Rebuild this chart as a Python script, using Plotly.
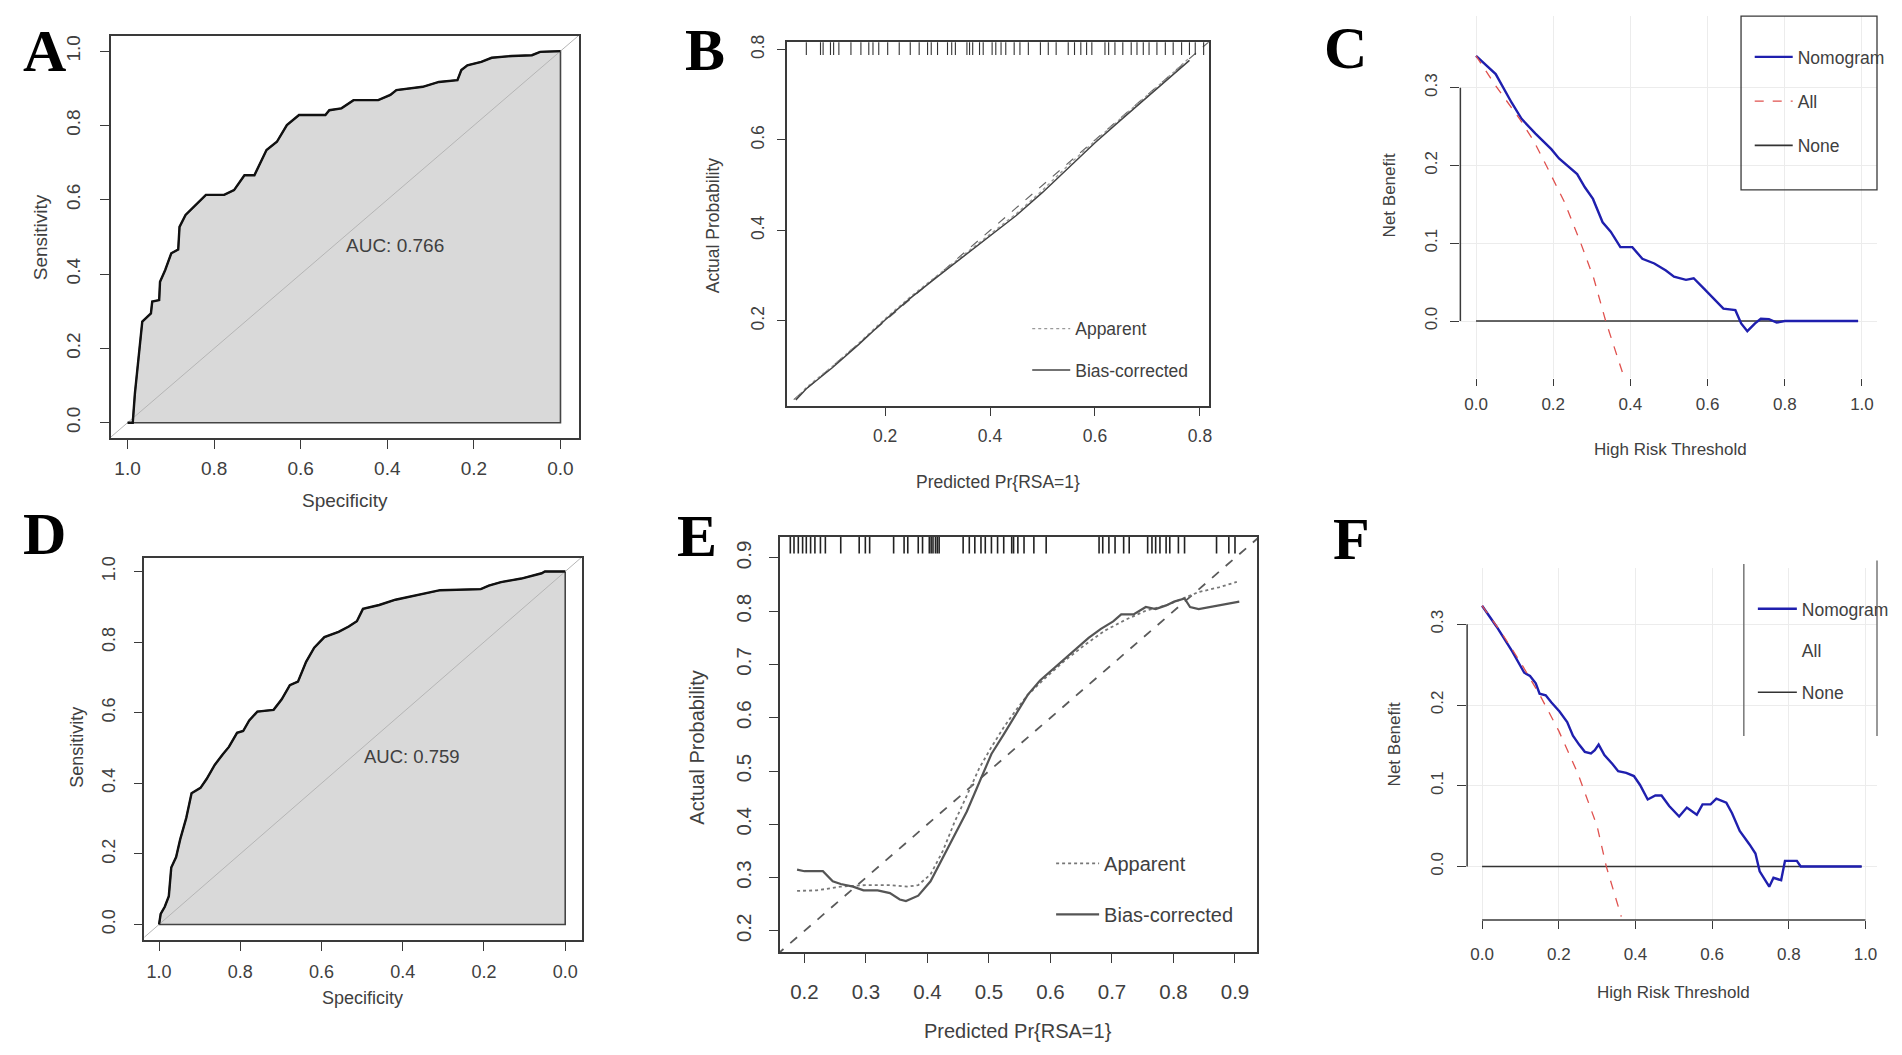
import plotly.graph_objects as go

# ---------------- data ----------------
# A: ROC, training cohort
roc_a_spec = [1.0, 0.988, 0.983, 0.974, 0.966, 0.946, 0.943, 0.927, 0.925, 0.913,
              0.899, 0.883, 0.880, 0.866, 0.843, 0.819, 0.777, 0.754, 0.730, 0.707,
              0.679, 0.655, 0.632, 0.604, 0.543, 0.534, 0.506, 0.478, 0.421, 0.393,
              0.379, 0.318, 0.281, 0.238, 0.229, 0.215, 0.183, 0.159, 0.112, 0.066,
              0.047, 0.0]
roc_a_sens = [0.0, 0.0, 0.079, 0.187, 0.272, 0.294, 0.326, 0.330, 0.379, 0.411,
              0.456, 0.466, 0.527, 0.559, 0.586, 0.613, 0.613, 0.626, 0.666, 0.666,
              0.734, 0.756, 0.801, 0.828, 0.828, 0.841, 0.846, 0.868, 0.868, 0.882,
              0.895, 0.904, 0.917, 0.922, 0.949, 0.962, 0.971, 0.982, 0.987, 0.989,
              0.998, 1.0]

# D: ROC, validation cohort
roc_d_spec = [1.0, 0.996, 0.986, 0.976, 0.970, 0.958, 0.948, 0.933, 0.920, 0.898,
              0.883, 0.863, 0.843, 0.828, 0.808, 0.793, 0.778, 0.758, 0.718, 0.698,
              0.678, 0.658, 0.638, 0.618, 0.593, 0.558, 0.533, 0.513, 0.498, 0.458,
              0.418, 0.358, 0.308, 0.208, 0.188, 0.158, 0.108, 0.058, 0.05, 0.0]
roc_d_sens = [0.0, 0.030, 0.050, 0.080, 0.161, 0.191, 0.241, 0.302, 0.372, 0.387,
              0.412, 0.452, 0.482, 0.503, 0.543, 0.548, 0.578, 0.603, 0.608, 0.638,
              0.678, 0.688, 0.744, 0.784, 0.814, 0.829, 0.844, 0.859, 0.894, 0.905,
              0.920, 0.935, 0.947, 0.950, 0.960, 0.970, 0.980, 0.995, 1.0, 1.0]

auc_labels = ["AUC: 0.766", "AUC: 0.759"]
roc_ticks = [0.0, 0.2, 0.4, 0.6, 0.8, 1.0]

# B: calibration, training cohort
cal_b_x = [0.03, 0.05, 0.10, 0.15, 0.20, 0.25, 0.30, 0.35, 0.40, 0.45, 0.50,
           0.55, 0.60, 0.65, 0.70, 0.75, 0.78]
cal_b_apparent = [0.028, 0.053, 0.100, 0.151, 0.205, 0.255, 0.301, 0.346, 0.391,
                  0.437, 0.489, 0.545, 0.598, 0.648, 0.698, 0.750, 0.782]
cal_b_bias = [0.025, 0.050, 0.097, 0.148, 0.202, 0.252, 0.298, 0.343, 0.388,
              0.433, 0.484, 0.540, 0.594, 0.645, 0.695, 0.746, 0.776]
rug_b = [0.050, 0.077, 0.082, 0.096, 0.102, 0.112, 0.135, 0.154, 0.169, 0.177,
         0.188, 0.205, 0.227, 0.248, 0.265, 0.281, 0.288, 0.300, 0.319, 0.327,
         0.334, 0.356, 0.361, 0.367, 0.380, 0.387, 0.404, 0.411, 0.421, 0.430,
         0.446, 0.457, 0.473, 0.496, 0.511, 0.526, 0.549, 0.561, 0.573, 0.584,
         0.594, 0.619, 0.626, 0.638, 0.653, 0.669, 0.680, 0.692, 0.703, 0.718,
         0.734, 0.749, 0.765, 0.780, 0.791, 0.807]
cal_b_ticks = [0.2, 0.4, 0.6, 0.8]

# E: calibration, validation cohort
cal_e_bias_x = [0.188, 0.200, 0.230, 0.246, 0.259, 0.279, 0.296, 0.319, 0.339, 0.355,
                0.365, 0.385, 0.405, 0.425, 0.444, 0.464, 0.484, 0.504, 0.524, 0.543,
                0.563, 0.583, 0.603, 0.623, 0.643, 0.662, 0.682, 0.702, 0.715, 0.735,
                0.755, 0.771, 0.788, 0.801, 0.818, 0.827, 0.841, 0.867, 0.887, 0.907]
cal_e_bias = [0.315, 0.312, 0.312, 0.293, 0.288, 0.283, 0.276, 0.276, 0.271, 0.259,
              0.256, 0.266, 0.293, 0.337, 0.377, 0.424, 0.478, 0.532, 0.569, 0.606,
              0.643, 0.670, 0.690, 0.710, 0.730, 0.750, 0.767, 0.781, 0.794, 0.794,
              0.808, 0.804, 0.811, 0.818, 0.824, 0.808, 0.804, 0.809, 0.814, 0.818]
cal_e_app_x = [0.188, 0.220, 0.259, 0.299, 0.339, 0.368, 0.385, 0.405, 0.425, 0.444,
               0.464, 0.484, 0.504, 0.524, 0.543, 0.563, 0.590, 0.623, 0.656, 0.689,
               0.722, 0.755, 0.788, 0.814, 0.841, 0.874, 0.903]
cal_e_app = [0.275, 0.276, 0.283, 0.286, 0.286, 0.283, 0.286, 0.306, 0.350, 0.404,
             0.454, 0.505, 0.545, 0.582, 0.613, 0.643, 0.673, 0.707, 0.737, 0.764,
             0.784, 0.801, 0.811, 0.824, 0.836, 0.845, 0.855]
rug_e = [0.177, 0.183, 0.190, 0.197, 0.203, 0.210, 0.217, 0.226, 0.234, 0.259,
         0.289, 0.299, 0.306, 0.345, 0.362, 0.368, 0.385, 0.392, 0.403, 0.406,
         0.409, 0.413, 0.416, 0.419, 0.458, 0.468, 0.477, 0.487, 0.494, 0.504,
         0.514, 0.524, 0.537, 0.540, 0.547, 0.557, 0.573, 0.593, 0.679, 0.685,
         0.695, 0.705, 0.719, 0.728, 0.758, 0.765, 0.771, 0.778, 0.788, 0.794,
         0.808, 0.818, 0.870, 0.890, 0.900]
cal_e_ticks = [0.2, 0.3, 0.4, 0.5, 0.6, 0.7, 0.8, 0.9]

# C: decision curve, training cohort
dca_c_x = [0.0, 0.051, 0.092, 0.118, 0.154, 0.195, 0.215, 0.241, 0.262, 0.282,
           0.303, 0.328, 0.349, 0.374, 0.405, 0.431, 0.462, 0.492, 0.513, 0.544,
           0.564, 0.590, 0.615, 0.641, 0.672, 0.687, 0.703, 0.723, 0.738, 0.759,
           0.779, 0.800, 0.990]
dca_c_nomogram = [0.341, 0.3175, 0.281, 0.260, 0.241, 0.221, 0.209, 0.198, 0.189, 0.172,
                  0.157, 0.127, 0.115, 0.095, 0.095, 0.080, 0.074, 0.065, 0.057, 0.053,
                  0.055, 0.042, 0.029, 0.016, 0.014, -0.003, -0.013, -0.003, 0.003, 0.0025,
                  -0.002, 0.0, 0.0]
dca_c_all_x = [0.0, 0.05, 0.113, 0.15, 0.182, 0.23, 0.2715, 0.305, 0.336, 0.38]
dca_c_all = [0.341, 0.303, 0.260, 0.231, 0.200, 0.152, 0.100, 0.055, 0.0, -0.067]

# F: decision curve, validation cohort
dca_f_x = [0.0, 0.038, 0.079, 0.110, 0.125, 0.140, 0.150, 0.166, 0.181, 0.202,
           0.222, 0.237, 0.253, 0.268, 0.284, 0.294, 0.304, 0.319, 0.340, 0.355,
           0.376, 0.396, 0.412, 0.432, 0.452, 0.468, 0.488, 0.514, 0.534, 0.560,
           0.575, 0.596, 0.611, 0.637, 0.652, 0.672, 0.698, 0.713, 0.724, 0.734,
           0.749, 0.760, 0.780, 0.790, 0.821, 0.831, 0.990]
dca_f_nomogram = [0.323, 0.297, 0.266, 0.240, 0.236, 0.227, 0.214, 0.212, 0.203, 0.192,
                  0.179, 0.162, 0.151, 0.142, 0.140, 0.144, 0.151, 0.138, 0.127, 0.118,
                  0.116, 0.112, 0.101, 0.083, 0.088, 0.088, 0.075, 0.062, 0.073, 0.064,
                  0.077, 0.077, 0.084, 0.079, 0.066, 0.044, 0.027, 0.016, -0.006, -0.014,
                  -0.025, -0.014, -0.017, 0.007, 0.007, 0.0, 0.0]
dca_f_all_x = [0.0, 0.05, 0.1, 0.15, 0.2, 0.25, 0.3, 0.324, 0.363]
dca_f_all = [0.323, 0.290, 0.253, 0.213, 0.168, 0.115, 0.050, 0.0, -0.062]

none_x = [0.0, 0.99]
none_y = [0.0, 0.0]
dca_x_ticks = [0.0, 0.2, 0.4, 0.6, 0.8, 1.0]
dca_y_ticks = [0.0, 0.1, 0.2, 0.3]

# ---------------- page geometry ----------------
FW, FH = 1886, 1039          # div size (body keeps its 8px margin)
S = 1902 / 1568              # positions below were measured on a 1568px wide view
SANS = "Liberation Sans, Arial, sans-serif"
SERIF = "Liberation Serif, Times New Roman, serif"
TXT = "#404040"
AX = "#3a3a3a"


def fx(d):
    d = d * 1.0034 + 1.7     # small horizontal calibration of the measurements
    return max(0.0, min(1.0, (d * S - 8) / FW))


def fy(d):
    d = d * 1.004 - 4.5      # small vertical calibration of the measurements
    return max(0.0, min(1.0, 1 - (d * S - 8) / FH))


def box_axis(dom, rng, ticks, size, standoff, anchor, angle=0):
    return dict(domain=dom, range=rng, tickvals=ticks, tickformat=".1f", anchor=anchor,
                showline=True, mirror=True, linecolor=AX, linewidth=1.5,
                ticks="outside", ticklen=9, tickwidth=1.3, tickcolor=AX,
                showgrid=False, zeroline=False, tickangle=angle,
                ticklabelstandoff=standoff,
                tickfont=dict(family=SANS, size=size, color=TXT))


def dca_axis(dom, rng, ticks, size, standoff, anchor, ticklen, angle=0):
    return dict(domain=dom, range=rng, tickvals=ticks, tickformat=".1f", anchor=anchor,
                showline=False, ticks="outside", ticklen=ticklen, tickwidth=1.3, tickcolor=AX,
                showgrid=True, gridcolor="#ececec", gridwidth=1, zeroline=False,
                tickangle=angle, ticklabelstandoff=standoff,
                tickfont=dict(family=SANS, size=size, color=TXT))


def legend_box(line_x, first_y, size, gap, itemwidth):
    d = first_y * 1.004 - 4.5
    top = d * S - 8 - size * 0.65 - 5
    lx = line_x * 1.0034 + 1.7
    return dict(x=(lx * S - 8 - 5) / FW, y=1 - top / FH, xanchor="left", yanchor="top",
                bgcolor="rgba(0,0,0,0)", borderwidth=0, tracegroupgap=gap,
                traceorder="grouped", itemwidth=itemwidth,
                font=dict(family=SANS, size=size, color=TXT))


def note(text, xd, yd, size, angle=0, family=SANS, color=TXT, weight="normal"):
    return dict(text=text, x=fx(xd), y=fy(yd), xref="paper", yref="paper",
                showarrow=False, textangle=angle, xanchor="center", yanchor="middle",
                font=dict(family=family, size=size, color=color, weight=weight))


fig = go.Figure()

# ---- ROC panels (A -> x/y, D -> x4/y4) ----
for spec, sens, xa, ya in [(roc_a_spec, roc_a_sens, "x", "y"),
                           (roc_d_spec, roc_d_sens, "x4", "y4")]:
    fig.add_trace(go.Scatter(x=spec + [0.0, 1.0], y=sens + [0.0, 0.0], fill="toself",
                             fillcolor="#d9d9d9", mode="lines",
                             line=dict(color="#444", width=1.6),
                             xaxis=xa, yaxis=ya, showlegend=False, hoverinfo="skip"))
    fig.add_trace(go.Scatter(x=[1.1, -0.1], y=[-0.1, 1.1], mode="lines",
                             line=dict(color="#b5b5b5", width=1),
                             xaxis=xa, yaxis=ya, showlegend=False, hoverinfo="skip"))
    fig.add_trace(go.Scatter(x=spec, y=sens, mode="lines",
                             line=dict(color="#111", width=2.4),
                             xaxis=xa, yaxis=ya, showlegend=False))

# ---- calibration panels (B -> x2/y2, E -> x5/y5) ----
b_top, e_top = 0.816, 0.940
fig.add_trace(go.Scatter(x=[0, 1], y=[0, 1], mode="lines", xaxis="x2", yaxis="y2",
                         line=dict(color="#666", width=1.2, dash="dash"), showlegend=False))
fig.add_trace(go.Scatter(x=cal_b_x, y=cal_b_apparent, mode="lines", name="Apparent",
                         xaxis="x2", yaxis="y2", legend="legend", legendgroup="b1",
                         line=dict(color="#9a9a9a", width=1.3, dash="dot")))
fig.add_trace(go.Scatter(x=cal_b_x, y=cal_b_bias, mode="lines", name="Bias-corrected",
                         xaxis="x2", yaxis="y2", legend="legend", legendgroup="b2",
                         line=dict(color="#444", width=1.5)))
fig.add_trace(go.Scatter(x=rug_b, y=[b_top] * len(rug_b), mode="markers",
                         xaxis="x2", yaxis="y2", showlegend=False,
                         marker=dict(symbol="line-ns", size=18,
                                     line=dict(color="#333", width=1.1))))

fig.add_trace(go.Scatter(x=[0, 1], y=[0, 1], mode="lines", xaxis="x5", yaxis="y5",
                         line=dict(color="#5a5a5a", width=1.8, dash="dash"), showlegend=False))
fig.add_trace(go.Scatter(x=cal_e_app_x, y=cal_e_app, mode="lines", name="Apparent",
                         xaxis="x5", yaxis="y5", legend="legend2", legendgroup="e1",
                         line=dict(color="#777", width=1.8, dash="dot")))
fig.add_trace(go.Scatter(x=cal_e_bias_x, y=cal_e_bias, mode="lines", name="Bias-corrected",
                         xaxis="x5", yaxis="y5", legend="legend2", legendgroup="e2",
                         line=dict(color="#555", width=2.2)))
fig.add_trace(go.Scatter(x=rug_e, y=[e_top] * len(rug_e), mode="markers",
                         xaxis="x5", yaxis="y5", showlegend=False,
                         marker=dict(symbol="line-ns", size=24,
                                     line=dict(color="#222", width=1.6))))

# ---- decision curves (C -> x3/y3, F -> x6/y6) ----
for xa, ya, lg, nx, ny, ax_, ay_, show_all in [
        ("x3", "y3", "legend3", dca_c_x, dca_c_nomogram, dca_c_all_x, dca_c_all, True),
        ("x6", "y6", "legend4", dca_f_x, dca_f_nomogram, dca_f_all_x, dca_f_all, False)]:
    fig.add_trace(go.Scatter(x=none_x, y=none_y, mode="lines", name="None",
                             xaxis=xa, yaxis=ya, legend=lg, legendgroup=lg + "n", legendrank=3,
                             line=dict(color="#333", width=1.6)))
    fig.add_trace(go.Scatter(x=nx, y=ny, mode="lines", name="Nomogram",
                             xaxis=xa, yaxis=ya, legend=lg, legendgroup=lg + "m", legendrank=1,
                             line=dict(color="#1f1fae", width=2.4)))
    fig.add_trace(go.Scatter(x=ax_, y=ay_, mode="lines", name="All",
                             xaxis=xa, yaxis=ya, legend=lg, legendgroup=lg + "a", legendrank=2,
                             showlegend=show_all,
                             line=dict(color="#e0524f", width=1.3, dash="dash")))
    if not show_all:
        # legend entry without a line sample, as in the original
        fig.add_trace(go.Scatter(x=[None], y=[None], mode="lines", name="All",
                                 xaxis=xa, yaxis=ya, legend=lg, legendgroup=lg + "a",
                                 legendrank=2, line=dict(color="#e0524f", width=0)))

fig.update_layout(
    width=FW, height=FH, margin=dict(l=0, r=0, t=0, b=0),
    paper_bgcolor="white", plot_bgcolor="white", showlegend=True,
    xaxis=box_axis([fx(90), fx(478)], [1.039, -0.042], roc_ticks, 19, 3, "y"),
    yaxis=box_axis([fy(361), fy(28)], [-0.042, 1.042], roc_ticks, 19, 12, "x", -90),
    xaxis4=box_axis([fx(118), fx(481)], [1.036, -0.042], roc_ticks, 18, 5, "y4"),
    yaxis4=box_axis([fy(776), fy(460)], [-0.045, 1.038], roc_ticks, 18, 12, "x4", -90),
    xaxis2=box_axis([fx(651), fx(1000.5)], [0.0138, 0.817], cal_b_ticks, 17.5, 5, "y2"),
    yaxis2=box_axis([fy(334), fy(33.6)], [0.0126, b_top], cal_b_ticks, 17.5, 6, "x2", -90),
    xaxis5=box_axis([fx(644.8), fx(1040.5)], [0.160, 0.936], cal_e_ticks, 20.5, 11, "y5"),
    yaxis5=box_axis([fy(785.8), fy(442.3)], [0.160, e_top], cal_e_ticks, 20.5, 10, "x5", -90),
    xaxis3=dca_axis([fx(1209), 1.0], [-0.0406, 1.039], dca_x_ticks, 17, 4, "y3", 7),
    yaxis3=dca_axis([fy(311), fy(12)], [-0.073, 0.392], dca_y_ticks, 17, 7, "x3", 9, -90),
    xaxis6=dca_axis([fx(1214.6), 1.0], [-0.039, 1.030], dca_x_ticks, 17, 10, "y6", 8),
    yaxis6=dca_axis([fy(759.3), fy(468)], [-0.0664, 0.370], dca_y_ticks, 17, 7, "x6", 9, -90),
    legend=legend_box(854, 269, 17.5, 15.5, 38),
    legend2=legend_box(873.8, 711, 20, 22, 43),
    legend3=legend_box(1453, 44.3, 17.5, 18.5, 38),
    legend4=legend_box(1455.6, 500.5, 17.5, 16, 39),
)

# axis lines of the decision-curve panels only span the data ticks
shapes = [
    dict(type="line", xref="x3 domain", yref="y3", x0=0, x1=0, y0=0, y1=0.3,
         line=dict(color=AX, width=1.5)),
    dict(type="line", xref="x6 domain", yref="y6", x0=0, x1=0, y0=0, y1=0.3,
         line=dict(color=AX, width=1.5)),
    dict(type="line", xref="x6", yref="y6 domain", x0=0, x1=1, y0=0, y1=0,
         line=dict(color=AX, width=1.5)),
    # legend frames
    dict(type="rect", xref="paper", yref="paper", x0=fx(1441.7), x1=fx(1556),
         y0=fy(155.6), y1=fy(12), line=dict(color=AX, width=1.3)),
    dict(type="line", xref="paper", yref="paper", x0=fx(1444), x1=fx(1444),
         y0=fy(607), y1=fy(465), line=dict(color="#777", width=1.5)),
    dict(type="line", xref="paper", yref="paper", x0=fx(1556.5), x1=fx(1556.5),
         y0=fy(607), y1=fy(462), line=dict(color="#777", width=1.5)),
]

annotations = [
    # panel letters
    note("A", 35, 41, 60, family=SERIF, color="black", weight="bold"),
    note("B", 583, 40, 60, family=SERIF, color="black", weight="bold"),
    note("C", 1114, 38, 60, family=SERIF, color="black", weight="bold"),
    note("D", 35, 440, 60, family=SERIF, color="black", weight="bold"),
    note("E", 576, 442, 60, family=SERIF, color="black", weight="bold"),
    note("F", 1119, 444, 60, family=SERIF, color="black", weight="bold"),
    # axis titles
    note("Sensitivity", 32, 195, 19, -90),
    note("Specificity", 284, 412, 19),
    note("Sensitivity", 62, 616, 18, -90),
    note("Specificity", 299, 824, 18),
    note("Actual Probability", 590, 185, 17.5, -90),
    note("Predicted Pr{RSA=1}", 826, 397, 17.5),
    note("Actual Probability", 576, 616, 20, -90),
    note("Predicted Pr{RSA=1}", 842, 851, 20),
    note("Net Benefit", 1150, 160, 17, -90),
    note("High Risk Threshold", 1383, 370, 17),
    note("Net Benefit", 1154, 614, 17, -90),
    note("High Risk Threshold", 1386, 819, 17),
    # AUC values in data coordinates
    dict(text=auc_labels[0], x=0.5, y=0.476, xref="x", yref="y", showarrow=False,
         xanchor="left", yanchor="middle", font=dict(family=SANS, size=19, color=TXT)),
    dict(text=auc_labels[1], x=0.5, y=0.475, xref="x4", yref="y4", showarrow=False,
         xanchor="left", yanchor="middle", font=dict(family=SANS, size=18.5, color=TXT)),
]

fig.update_layout(shapes=shapes, annotations=annotations)

fig.write_html("out.html")
